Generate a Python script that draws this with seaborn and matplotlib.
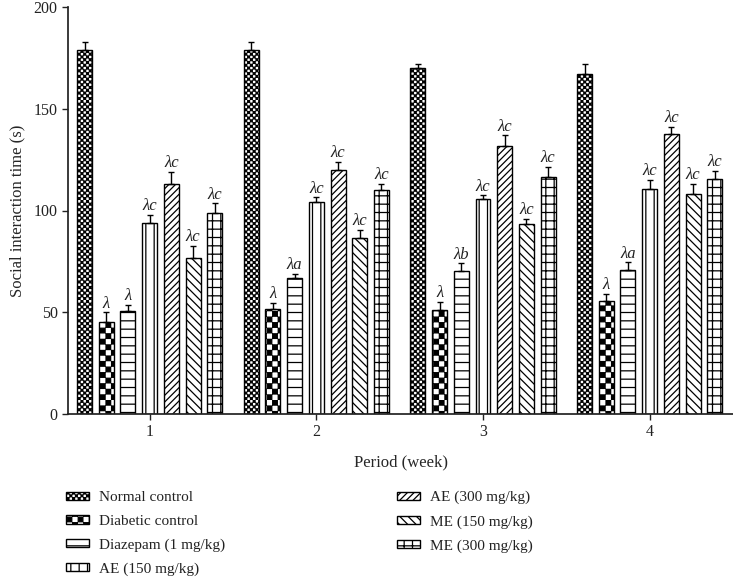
import warnings
import numpy as np
import pandas as pd
import seaborn as sns
import matplotlib.pyplot as plt
import matplotlib.hatch as mhatch
from matplotlib.path import Path

warnings.filterwarnings("ignore")

weeks = ["1", "2", "3", "4"]
groups = ["Normal control", "Diabetic control", "Diazepam (1 mg/kg)", "AE (150 mg/kg)",
          "AE (300 mg/kg)", "ME (150 mg/kg)", "ME (300 mg/kg)"]

normal = [179, 179, 170, 167]
diabetic = [45, 51.5, 51, 55.5]
diazepam = [50.5, 67, 70.5, 71]
ae150 = [94, 104, 105.5, 110.5]
ae300 = [113, 120, 131.5, 137.5]
me150 = [76.5, 86.5, 93.5, 108]
me300 = [99, 110, 116.5, 115.5]

normal_err = [4, 4, 2, 5]
diabetic_err = [5, 3, 4, 3.5]
diazepam_err = [3, 2, 3.5, 3.5]
ae150_err = [4, 2.5, 2, 4.5]
ae300_err = [6, 4, 5.5, 3.5]
me150_err = [6, 4, 2.5, 5]
me300_err = [4.5, 3, 5, 4]

# significance letters above each bar (week 1..4)
normal_sig = ["", "", "", ""]
diabetic_sig = ["λ", "λ", "λ", "λ"]
diazepam_sig = ["λ", "λa", "λb", "λa"]
ae150_sig = ["λc", "λc", "λc", "λc"]
ae300_sig = ["λc", "λc", "λc", "λc"]
me150_sig = ["λc", "λc", "λc", "λc"]
me300_sig = ["λc", "λc", "λc", "λc"]

values = [normal, diabetic, diazepam, ae150, ae300, me150, me300]
errors = [normal_err, diabetic_err, diazepam_err, ae150_err, ae300_err, me150_err, me300_err]
sigs = [normal_sig, diabetic_sig, diazepam_sig, ae150_sig, ae300_sig, me150_sig, me300_sig]


class CheckerHatch(mhatch.HatchPatternBase):
    """checkerboard of filled squares, 'k' sets how many per inch"""
    def __init__(self, hatch, density):
        self.n = hatch.count("k") * density
        self.cells = [(i, j) for i in range(self.n) for j in range(self.n) if (i + j) % 2 == 0]
        self.num_vertices = len(self.cells) * 5

    def set_vertices_and_codes(self, vertices, codes):
        step = 1.0 / self.n
        side = step - 0.009
        off = (step - side) / 2
        for k, (i, j) in enumerate(self.cells):
            x0 = i * step + off
            y0 = j * step + off
            vertices[k * 5:(k + 1) * 5] = [(x0, y0), (x0 + side, y0), (x0 + side, y0 + side),
                                           (x0, y0 + side), (x0, y0)]
            codes[k * 5:(k + 1) * 5] = [Path.MOVETO, Path.LINETO, Path.LINETO,
                                        Path.LINETO, Path.CLOSEPOLY]


mhatch._hatch_types.append(CheckerHatch)

hatches = ["kkkkkk", "kkk", "--", "||", "/////", "\\\\\\\\", "++"]

sns.set_theme(style="ticks")
plt.rcParams["font.family"] = ["Liberation Serif", "DejaVu Serif"]
plt.rcParams["hatch.linewidth"] = 0.9
plt.rcParams["axes.edgecolor"] = "#222222"
plt.rcParams["text.color"] = "#222222"
plt.rcParams["xtick.color"] = "#222222"
plt.rcParams["ytick.color"] = "#222222"

rows = []
for g, vals in zip(groups, values):
    for w, v in zip(weeks, vals):
        rows.append({"week": w, "group": g, "time": v})
df = pd.DataFrame(rows)

fig = plt.figure(figsize=(7.33, 5.77), dpi=100)
ax = fig.add_axes([68 / 733, 1 - 414 / 577, 665 / 733, 407 / 577])

sns.barplot(data=df, x="week", y="time", hue="group", hue_order=groups, order=weeks,
            palette=["white"] * 7, saturation=1, width=0.912, gap=0.31,
            edgecolor="black", linewidth=1, errorbar=None, legend=False, ax=ax)

bar_groups = list(ax.containers)
for i, cont in enumerate(bar_groups):
    xs, tops = [], []
    for bar in cont.patches:
        bar.set_hatch(hatches[i])
        bar.set_edgecolor("black")
        xs.append(bar.get_x() + bar.get_width() / 2)
        tops.append(bar.get_height())
    err = np.array(errors[i])
    ax.errorbar(xs, tops, yerr=[np.zeros(4), err], fmt="none", ecolor="black",
                elinewidth=1, capsize=2.5, capthick=1, zorder=5)
    for x, t, e, s in zip(xs, tops, err, sigs[i]):
        if s:
            ax.annotate(s, (x, t + e), xytext=(0, 0.5), textcoords="offset points",
                        ha="center", va="bottom", fontsize=12, style="italic")

ax.set_xlim(-0.49, 3.50)
ax.set_ylim(0, 200)
ax.set_yticks([0, 50, 100, 150, 200])
ax.set_xlabel("Period (week)", fontsize=12, labelpad=10)
ax.set_ylabel("Social interaction time (s)", fontsize=12, labelpad=6)
ax.tick_params(labelsize=11.5, length=4, width=1)
sns.despine(ax=ax)

handles = [c.patches[0] for c in bar_groups]
fig.legend(handles, groups, loc="upper left", bbox_to_anchor=(66 / 733, 1 - 491 / 577),
           ncol=2, frameon=False, fontsize=11, handlelength=1.48, handleheight=0.46,
           handletextpad=0.65, labelspacing=0.69, columnspacing=11.3, borderpad=0,
           borderaxespad=0)

fig.savefig("out.png", dpi=100)
